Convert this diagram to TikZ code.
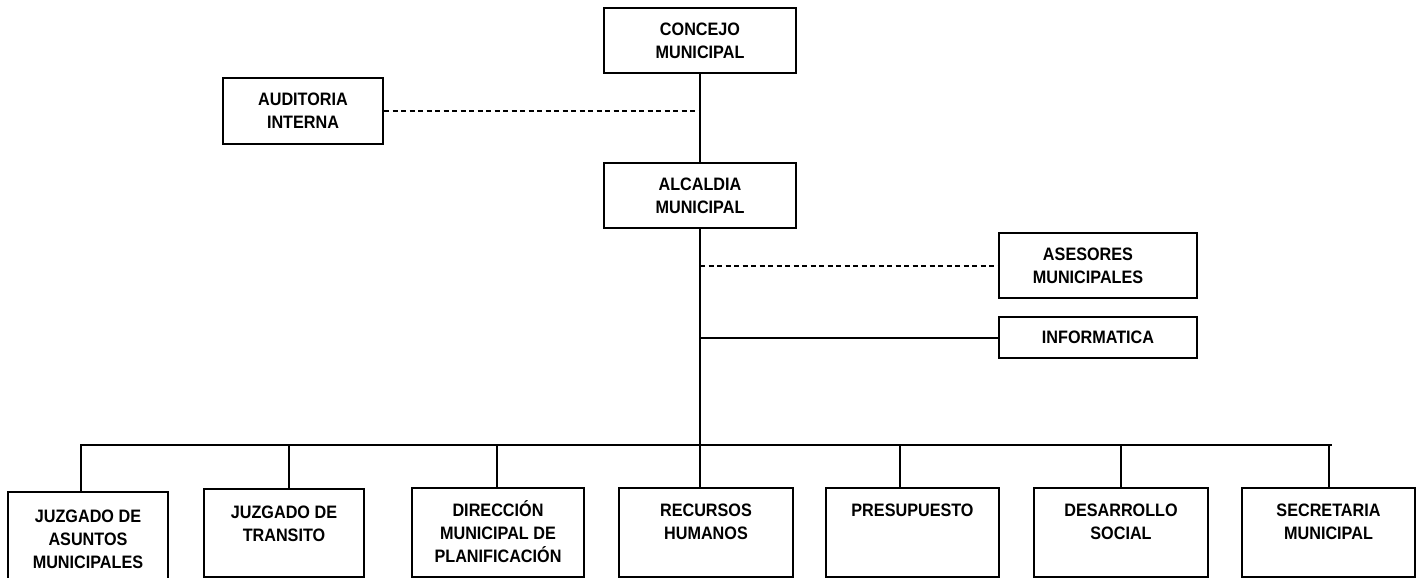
\documentclass[tikz,border=0pt]{standalone}
\usepackage{fontspec}
\setmainfont{Liberation Sans}[FakeStretch=0.9]
\newcommand{\boxtext}[4]{\parbox[c][#2][t]{#1}{\centering\rule{0pt}{#3}#4\par}}
\begin{document}
\begin{tikzpicture}[x=1pt,y=-1pt,
  box/.style={draw=black, line width=2pt, inner sep=0pt, align=center,
    font=\fontsize{18}{23}\selectfont\bfseries},
  lowbox/.style={box, anchor=north west},
  link/.style={line width=2pt},
  dlink/.style={line width=2pt, dash pattern=on 5pt off 3.5pt}]
\useasboundingbox (0,0) rectangle (1422,578);
\fill[white] (0,0) rectangle (1422,578);

% upper boxes
\node[box, minimum width=192pt, minimum height=65pt] (conc) at (700,40.5) {CONCEJO\\MUNICIPAL};
\node[box, minimum width=160pt, minimum height=66pt] (aud) at (303,111) {AUDITORIA\\INTERNA};
\node[box, minimum width=192pt, minimum height=65pt] (alc) at (700,195.5) {ALCALDIA\\MUNICIPAL};
\node[box, minimum width=198pt, minimum height=65pt] (ases) at (1098,265.5) {ASESORES\kern20pt\\MUNICIPALES\kern20pt};
\node[box, minimum width=198pt, minimum height=41pt] (info) at (1098,337.5) {INFORMATICA};

% lower boxes
\node[lowbox] (b1) at (7,491) {\boxtext{160pt}{91pt}{30pt}{JUZGADO DE\\ASUNTOS\\MUNICIPALES}};
\node[lowbox] (b2) at (203,488) {\boxtext{160pt}{88pt}{29pt}{JUZGADO DE\\TRANSITO}};
\node[lowbox] (b3) at (411,487) {\boxtext{172pt}{89pt}{28pt}{DIRECCIÓN\\MUNICIPAL DE\\PLANIFICACIÓN}};
\node[lowbox] (b4) at (618,487) {\boxtext{174pt}{89pt}{28pt}{RECURSOS\\HUMANOS}};
\node[lowbox] (b5) at (825,487) {\boxtext{173pt}{89pt}{28pt}{PRESUPUESTO}};
\node[lowbox] (b6) at (1033,487) {\boxtext{174pt}{89pt}{28pt}{DESARROLLO\\SOCIAL}};
\node[lowbox] (b7) at (1241,487) {\boxtext{173pt}{89pt}{28pt}{SECRETARIA\\MUNICIPAL}};

% bus coordinates
\coordinate (d1) at (81,445);
\coordinate (d2) at (289,445);
\coordinate (d3) at (497,445);
\coordinate (d5) at (900,445);
\coordinate (d6) at (1121,445);
\coordinate (d7) at (1329,445);
\coordinate (br) at (1332,445);

% connectors
\draw[link] (conc.south) -- (alc.north);
\draw[dlink] (aud.east) -- (aud.east -| conc.south);
\draw[link] (alc.south) -- (alc.south |- b4.north);
\draw[dlink] (ases.west -| alc.south) -- (ases.west);
\draw[link] (info.west -| alc.south) -- (info.west);
\draw[link] (d1 |- b1.north) -- (d1) -- (br);
\draw[link] (d2) -- (d2 |- b2.north);
\draw[link] (d3) -- (d3 |- b3.north);
\draw[link] (d5) -- (d5 |- b5.north);
\draw[link] (d6) -- (d6 |- b6.north);
\draw[link] (d7) -- (d7 |- b7.north);
\end{tikzpicture}
\end{document}
